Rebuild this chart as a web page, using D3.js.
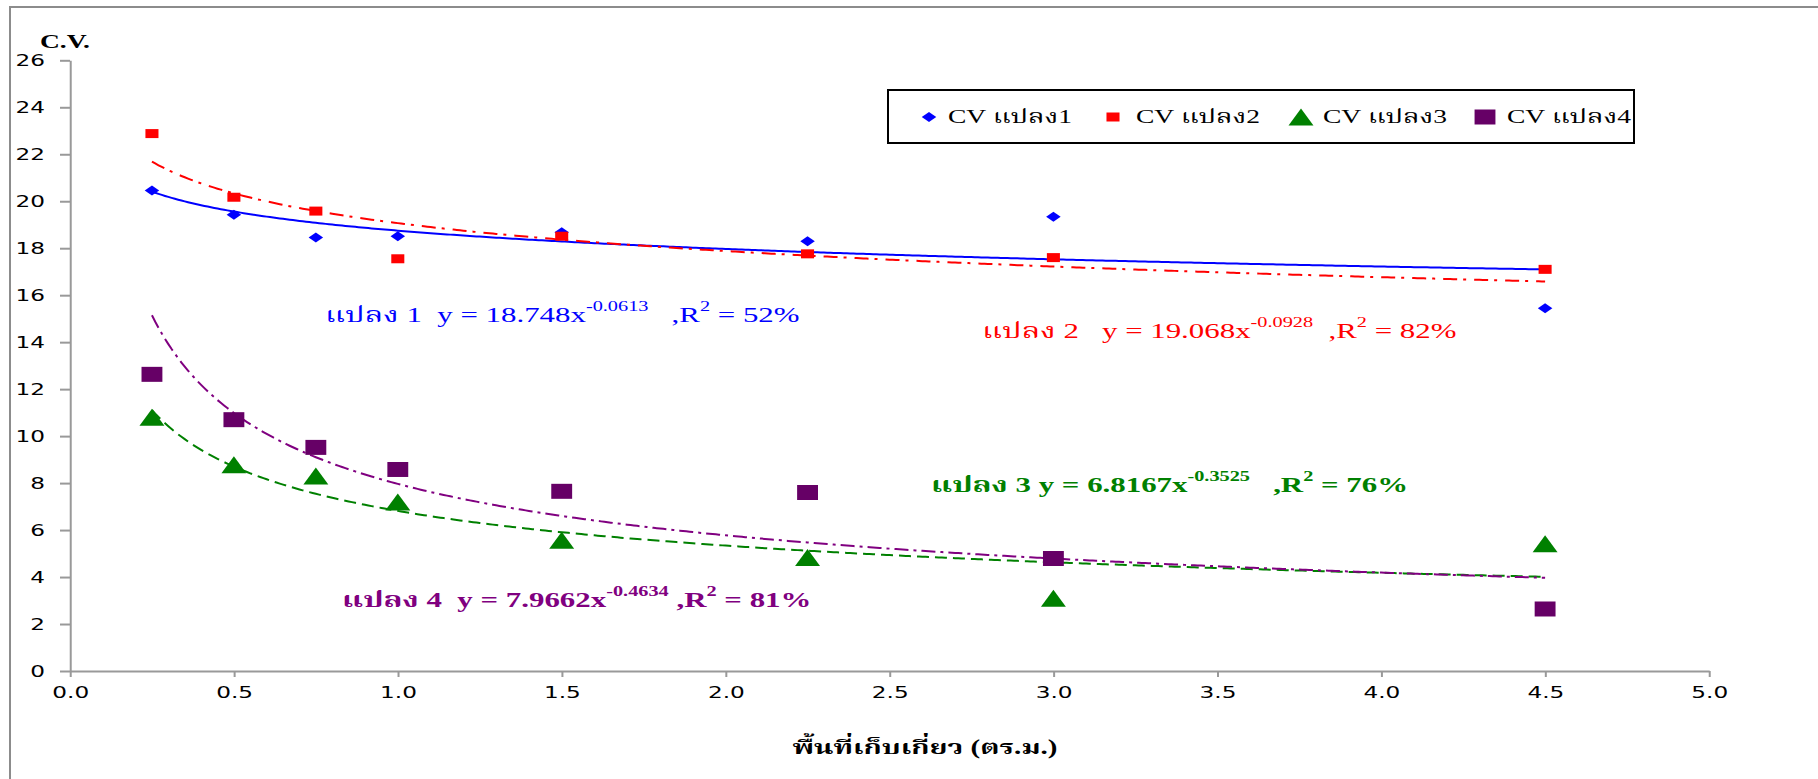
<!DOCTYPE html>
<html>
<head>
<meta charset="utf-8">
<script src="https://cdn.jsdelivr.net/npm/d3@7"></script>
<style>
body { margin: 0; background: #fff; overflow: hidden; }
.axis path, .axis line { stroke: #999; stroke-width: 2; vector-effect: non-scaling-stroke; }
.axis text { font-family: "DejaVu Sans", Verdana, sans-serif; font-size: 16px; fill: #000; }
</style>
</head>
<body>
<svg id="chart"></svg>
<script>
// harvest area (sq.m.) and C.V. of each plot
var areas = [0.25, 0.5, 0.75, 1.0, 1.5, 2.25, 3.0, 4.5];
var cv1 = [20.46, 19.42, 18.46, 18.51, 18.68, 18.3, 19.34, 15.44];
var cv2 = [22.88, 20.17, 19.58, 17.55, 18.51, 17.76, 17.6, 17.1];
var cv3 = [10.8, 8.78, 8.3, 7.2, 5.57, 4.83, 3.1, 5.42];
var cv4 = [12.63, 10.7, 9.52, 8.58, 7.65, 7.6, 4.79, 2.64];
var seriesNames = ["CV แปลง1", "CV แปลง2", "CV แปลง3", "CV แปลง4"];

// power trend lines as printed on the chart
var fitA = [18.748, 19.068, 6.8167, 7.9662];
var fitB = [-0.0613, -0.0928, -0.3525, -0.4634];
var fitR2 = [52, 82, 76, 81];
var plotLabels = ["แปลง 1", "แปลง 2", "แปลง 3", "แปลง 4"];

var xTicks = [0, 0.5, 1, 1.5, 2, 2.5, 3, 3.5, 4, 4.5, 5];
var yTicks = [0, 2, 4, 6, 8, 10, 12, 14, 16, 18, 20, 22, 24, 26];

var W = 1818, H = 779;
var S = 1.45; // the original picture is stretched sideways
var VW = W / S;

function sx(px) { return px / S; }

var svg = d3.select('#chart')
    .attr('width', W)
    .attr('height', H)
    .attr('viewBox', [0, 0, VW, H].join(' '))
    .attr('preserveAspectRatio', 'none');

var x = d3.scaleLinear().domain([0, 5]).range([sx(70), sx(1709)]);
var y = d3.scaleLinear().domain([0, 26]).range([671, 60.3]);

// outer frame
svg.append('rect')
    .attr('x', sx(10)).attr('y', 7)
    .attr('width', VW).attr('height', H)
    .attr('fill', 'none')
    .attr('stroke', '#8c8c8c')
    .attr('stroke-width', 2)
    .style('vector-effect', 'non-scaling-stroke');

svg.append('g')
    .attr('class', 'axis')
    .attr('transform', 'translate(' + x(0) + ',0)')
    .call(d3.axisLeft(y).tickValues(yTicks).tickSize(sx(10)).tickSizeOuter(0)
        .tickPadding(sx(15)).tickFormat(d3.format('d')));

svg.append('g')
    .attr('class', 'axis')
    .attr('transform', 'translate(0,' + y(0) + ')')
    .call(d3.axisBottom(x).tickValues(xTicks).tickSize(6).tickSizeOuter(0)
        .tickPadding(10).tickFormat(d3.format('.1f')));

svg.append('text')
    .attr('x', sx(40)).attr('y', 48)
    .style('font-family', '"Liberation Serif", "Times New Roman", serif')
    .style('font-weight', 'bold')
    .style('font-size', '19px')
    .text('C.V.');

svg.append('text')
    .attr('x', sx(925)).attr('y', 754)
    .attr('text-anchor', 'middle')
    .style('font-family', '"Liberation Serif", "Noto Serif Thai", "Noto Sans Thai", serif')
    .style('font-weight', 'bold')
    .style('font-size', '20px')
    .text('พื้นที่เก็บเกี่ยว (ตร.ม.)');

var markerColors = ['#0000ff', '#ff0000', '#008000', '#660066'];
var lineColors = ['#0000ff', '#ff0000', '#008000', '#800080'];
var dashes = [null, '14,6,3,8', '12,6', '14,5,3,5'];

// marker shapes in internal units (centered on the point)
function markerPath(i) {
    if (i === 0) return 'M0,-5L5,0L0,5L-5,0Z';
    if (i === 1) return 'M-4.5,-4.5H4.5V4.5H-4.5Z';
    if (i === 2) return 'M0,-8.5L8.6,8.5H-8.6Z';
    return 'M-7.2,-7.5H7.2V7.5H-7.2Z';
}

var allSeries = [cv1, cv2, cv3, cv4];

// trend lines
var fitXs = d3.range(0.25, 4.5001, 0.01);
var line = d3.line()
    .x(function (d) { return x(d[0]); })
    .y(function (d) { return y(d[1]); });

allSeries.forEach(function (vals, i) {
    svg.append('path')
        .datum(fitXs.map(function (v) { return [v, fitA[i] * Math.pow(v, fitB[i])]; }))
        .attr('d', line)
        .attr('fill', 'none')
        .attr('stroke', lineColors[i])
        .attr('stroke-width', 2)
        .attr('stroke-dasharray', dashes[i])
        .style('vector-effect', 'non-scaling-stroke');
});

allSeries.forEach(function (vals, i) {
    svg.append('g').selectAll('path')
        .data(areas.map(function (a, k) { return [a, vals[k]]; }))
        .enter().append('path')
        .attr('d', markerPath(i))
        .attr('fill', markerColors[i])
        .attr('transform', function (d) {
            return 'translate(' + x(d[0]) + ',' + y(d[1]) + ')';
        });
});

// legend
var legend = svg.append('g');
legend.append('rect')
    .attr('x', sx(888)).attr('y', 90)
    .attr('width', sx(746)).attr('height', 53)
    .attr('fill', '#fff')
    .attr('stroke', '#000')
    .attr('stroke-width', 2)
    .style('vector-effect', 'non-scaling-stroke');

var legendMarkX = [929, 1113, 1301, 1485];
var legendTextX = [948, 1136, 1323, 1507];
seriesNames.forEach(function (name, i) {
    legend.append('path')
        .attr('d', markerPath(i))
        .attr('fill', markerColors[i])
        .attr('transform', 'translate(' + sx(legendMarkX[i]) + ',117)');
    legend.append('text')
        .attr('x', sx(legendTextX[i])).attr('y', 123)
        .style('font-family', '"Liberation Serif", "Noto Serif Thai", serif')
        .style('font-size', '19px')
        .text(name);
});

// equation labels
var annX = [325, 982, 931, 342];
var annY = [322, 338, 492, 607];
var annBold = [false, false, true, true];
var gapA = ['  ', '   ', ' ', '  '];
var gapB = ['   ', '  ', '   ', ' '];

fitA.forEach(function (a, i) {
    var t = svg.append('text')
        .attr('x', sx(annX[i])).attr('y', annY[i])
        .attr('fill', lineColors[i])
        .style('white-space', 'pre')
        .style('font-family', '"Liberation Serif", "Noto Serif Thai", serif')
        .style('font-weight', annBold[i] ? 'bold' : 'normal')
        .style('font-size', '21.3px');
    t.append('tspan').text(plotLabels[i] + gapA[i] + 'y = ' + a + 'x');
    t.append('tspan').attr('dy', -11).style('font-size', '14px').text(fitB[i]);
    t.append('tspan').attr('dy', 11).text(gapB[i] + ',R');
    t.append('tspan').attr('dy', -11).style('font-size', '14px').text('2');
    t.append('tspan').attr('dy', 11).text(' = ' + fitR2[i] + '%');
});
</script>
</body>
</html>
